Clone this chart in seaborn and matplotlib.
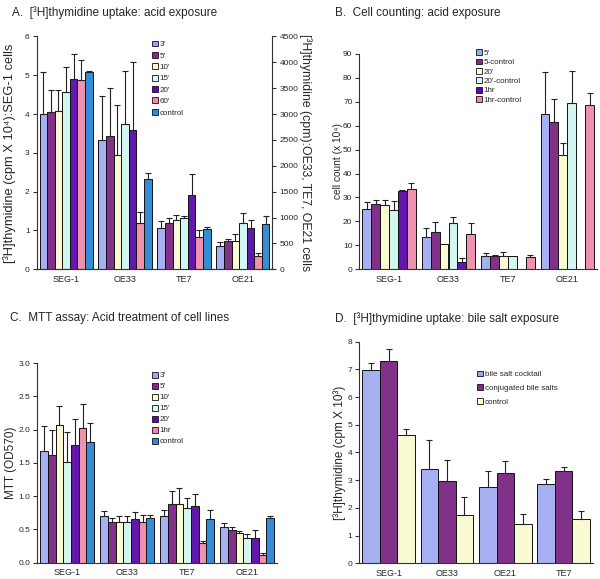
import numpy as np
import pandas as pd
import matplotlib.pyplot as plt
import seaborn as sns
from matplotlib.patches import Patch

cells = ['SEG-1', 'OE33', 'TE7', 'OE21']
cells_d = ['SEG-1', 'OE33', 'OE21', 'TE7']

# A: SEG-1 on left axis (cpm x 10^4), others on right axis (cpm)
a_groups = ["3'", "5'", "10'", "15'", "20'", "60'", "control"]
a_seg1 = [4.00, 4.05, 4.09, 4.58, 4.90, 4.87, 5.09]
a_seg1_err = [1.09, 0.57, 0.53, 0.63, 0.64, 0.52, 0.02]
a_oe33 = [2490, 2580, 2205, 2805, 2693, 893, 1740]
a_oe33_err = [855, 915, 968, 1035, 1320, 210, 128]
a_te7 = [803, 893, 953, 983, 1433, 615, 773]
a_te7_err = [127, 90, 105, 52, 412, 143, 52]
a_oe21 = [443, 540, 555, 885, 795, 248, 878]
a_oe21_err = [82, 53, 128, 210, 150, 60, 150]

# B: cell counts (x 10^4), 1hr missing for TE7 and OE21
b_groups = ["5'", "5-control", "20'", "20'-control", "1hr", "1hr-control"]
b_seg1 = [25.3, 27.4, 26.7, 24.6, 32.8, 33.7]
b_seg1_err = [2.9, 1.4, 2.3, 4.0, 0.5, 2.4]
b_oe33 = [13.3, 15.7, 10.6, 19.2, 3.2, 14.7]
b_oe33_err = [3.9, 4.2, 0.0, 2.5, 1.7, 4.6]
b_te7 = [5.7, 5.4, 5.7, 5.7, np.nan, 5.1]
b_te7_err = [1.1, 0.7, 1.5, 0.0, np.nan, 1.0]
b_oe21 = [64.7, 61.7, 47.8, 69.3, np.nan, 68.6]
b_oe21_err = [17.7, 9.4, 4.8, 13.5, np.nan, 4.9]

# C: MTT (OD570)
c_groups = ["3'", "5'", "10'", "15'", "20'", "1hr", "control"]
c_seg1 = [1.68, 1.62, 2.07, 1.52, 1.77, 2.03, 1.81]
c_seg1_err = [0.37, 0.37, 0.28, 0.44, 0.39, 0.36, 0.29]
c_oe33 = [0.70, 0.62, 0.61, 0.61, 0.66, 0.61, 0.67]
c_oe33_err = [0.08, 0.05, 0.10, 0.10, 0.10, 0.11, 0.05]
c_te7 = [0.70, 0.88, 0.89, 0.82, 0.86, 0.29, 0.66]
c_te7_err = [0.09, 0.20, 0.24, 0.16, 0.17, 0.03, 0.13]
c_oe21 = [0.54, 0.49, 0.45, 0.37, 0.37, 0.12, 0.67]
c_oe21_err = [0.06, 0.04, 0.03, 0.06, 0.12, 0.03, 0.04]

# D: bile salt exposure (cpm x 10^3)
d_groups = ['bile salt cocktail', 'conjugated bile salts', 'control']
d_cocktail = [6.98, 3.41, 2.77, 2.85]
d_cocktail_err = [0.24, 1.04, 0.56, 0.21]
d_conj = [7.29, 2.97, 3.25, 3.33]
d_conj_err = [0.45, 0.77, 0.46, 0.16]
d_control = [4.64, 1.73, 1.43, 1.59]
d_control_err = [0.19, 0.68, 0.34, 0.30]

pal7 = ['#99A6FF', '#8E2396', '#FFFFCC', '#CCFCF4', '#6200C4', '#FF82A6', '#1A8FF2']
pal6 = ['#99A6FF', '#8E2396', '#FFFFCC', '#CCFCF4', '#6200C4', '#FF82A6']
pal3 = ['#99A6FF', '#8E2396', '#FFFFCC']

sns.set_style('white')
plt.rcParams['font.family'] = ['Liberation Sans', 'DejaVu Sans']
narrow = ['Liberation Sans Narrow', 'Liberation Sans', 'DejaVu Sans']
AX_COL = '#333333'


def make_df(order, groups, rows):
    recs = []
    for cell, (vals, errs) in zip(order, rows):
        for g, v, e in zip(groups, vals, errs):
            if v is None or np.isnan(v):
                continue
            recs.append({'cell': cell, 'group': g, 'val': v, 'err': e})
    return pd.DataFrame(recs)


def draw(ax, df, order, groups, palette):
    sns.barplot(data=df, x='cell', y='val', hue='group', order=order,
                hue_order=groups, palette=palette, edgecolor='#111111',
                linewidth=0.7, errorbar=None, width=0.9, gap=0,
                legend=False, ax=ax)
    # one-sided error bars on top of the drawn bars
    for g, cont in zip(groups, ax.containers):
        for bar in cont:
            xc = bar.get_x() + bar.get_width() / 2
            top = bar.get_height()
            if np.isnan(top):
                continue
            cell = order[int(round(xc))]
            e = df[(df.cell == cell) & (df.group == g)]['err']
            if len(e) == 0 or e.iloc[0] <= 0:
                continue
            ax.errorbar(xc, top, yerr=[[0], [e.iloc[0]]], fmt='none',
                        ecolor='#222222', elinewidth=0.8, capsize=2,
                        capthick=0.8)


def style(ax, ylim, yticks, fmt='{:g}', right=False):
    ax.set_xlim(-0.5, 3.5)
    ax.set_ylim(*ylim)
    ax.set_yticks(yticks)
    ax.set_yticklabels([fmt.format(t) for t in yticks], family=narrow, fontsize=6)
    ax.set_xlabel('')
    ax.set_xticks([-0.5, 0.5, 1.5, 2.5, 3.5], minor=True)
    ax.tick_params(axis='x', which='major', length=0, pad=4, labelsize=6.5)
    ax.tick_params(axis='x', which='minor', length=3, width=0.8, color=AX_COL, direction='out')
    ax.tick_params(axis='y', length=3, width=0.8, color=AX_COL, direction='out',
                   left=not right, right=right, pad=2)
    for s in ['top', 'right', 'left', 'bottom']:
        ax.spines[s].set_visible(False)
    side = 'right' if right else 'left'
    for s in ['bottom', side]:
        ax.spines[s].set_visible(True)
        ax.spines[s].set_color(AX_COL)
        ax.spines[s].set_linewidth(0.8)


def xlabels(ax, order):
    ax.set_xticks(range(4))
    ax.set_xticklabels(order, family=narrow, fontsize=6.5)


def ylabel(ax, text, x, rotation=90, size=8.5):
    ax.set_ylabel(text, fontsize=size, rotation=rotation, va='center', ha='center')
    ax.yaxis.set_label_coords(x, 0.5)


def legend(ax, groups, palette, x, y, spacing=0.15):
    handles = [Patch(facecolor=c, edgecolor='#111111', linewidth=0.6) for c in palette]
    ax.legend(handles, groups, loc='upper left', bbox_to_anchor=(x, y),
              bbox_transform=ax.figure.transFigure, frameon=False,
              prop={'family': narrow, 'size': 5.8}, handlelength=0.75,
              handleheight=0.75, handletextpad=0.2, labelspacing=spacing,
              borderpad=0, borderaxespad=0)


fig = plt.figure(figsize=(6, 5.79), dpi=100)

# ---- A ----
axA = fig.add_axes([0.061, 0.535, 0.393, 0.402])
axA2 = axA.twinx()
dfA1 = make_df(['SEG-1'], a_groups, [(a_seg1, a_seg1_err)])
dfA2 = make_df(['OE33', 'TE7', 'OE21'], a_groups,
               [(a_oe33, a_oe33_err), (a_te7, a_te7_err), (a_oe21, a_oe21_err)])
draw(axA, dfA1, cells, a_groups, pal7)
draw(axA2, dfA2, cells, a_groups, pal7)
style(axA, (0, 6), range(0, 7))
style(axA2, (0, 4500), range(0, 4501, 500), right=True)
xlabels(axA, cells)
ylabel(axA, '[³H]thymidine (cpm X 10⁴):SEG-1 cells', -0.113, size=9.3)
ylabel(axA2, '[³H]thymidine (cpm):OE33, TE7, OE21 cells', 1.138, rotation=270, size=8.8)
legend(axA, a_groups, pal7, 0.253, 0.93, spacing=0.45)
fig.text(0.02, 0.978, 'A.  [³H]thymidine uptake: acid exposure', fontsize=8.5, va='center')

# ---- B ----
axB = fig.add_axes([0.599, 0.535, 0.396, 0.372])
dfB = make_df(cells, b_groups, [(b_seg1, b_seg1_err), (b_oe33, b_oe33_err),
                                (b_te7, b_te7_err), (b_oe21, b_oe21_err)])
draw(axB, dfB, cells, b_groups, pal6)
style(axB, (0, 90), range(0, 91, 10))
xlabels(axB, cells)
ylabel(axB, 'cell count (x 10⁴)', -0.09, size=7.3)
legend(axB, b_groups, pal6, 0.793, 0.915, spacing=0.2)
fig.text(0.558, 0.978, 'B.  Cell counting: acid exposure', fontsize=8.5, va='center')

# ---- C ----
axC = fig.add_axes([0.062, 0.028, 0.40, 0.345])
dfC = make_df(cells, c_groups, [(c_seg1, c_seg1_err), (c_oe33, c_oe33_err),
                                (c_te7, c_te7_err), (c_oe21, c_oe21_err)])
draw(axC, dfC, cells, c_groups, pal7)
style(axC, (0, 3), np.arange(0, 3.01, 0.5), fmt='{:.1f}')
xlabels(axC, cells)
ylabel(axC, 'MTT (OD570)', -0.11)
legend(axC, c_groups, pal7, 0.253, 0.358, spacing=0.4)
fig.text(0.017, 0.45, 'C.  MTT assay: Acid treatment of cell lines', fontsize=8.5, va='center')

# ---- D ----
axD = fig.add_axes([0.599, 0.027, 0.389, 0.383])
dfD = make_df(cells_d, d_groups, [(v, e) for v, e in zip(
    zip(d_cocktail, d_conj, d_control), zip(d_cocktail_err, d_conj_err, d_control_err))])
draw(axD, dfD, cells_d, d_groups, pal3)
style(axD, (0, 8), range(0, 9))
xlabels(axD, cells_d)
ylabel(axD, '[³H]thymidine (cpm X 10³)', -0.083)
legend(axD, d_groups, pal3, 0.795, 0.36, spacing=0.75)
fig.text(0.558, 0.45, 'D.  [³H]thymidine uptake: bile salt exposure', fontsize=8.5, va='center')

fig.savefig('out.png', dpi=100)
